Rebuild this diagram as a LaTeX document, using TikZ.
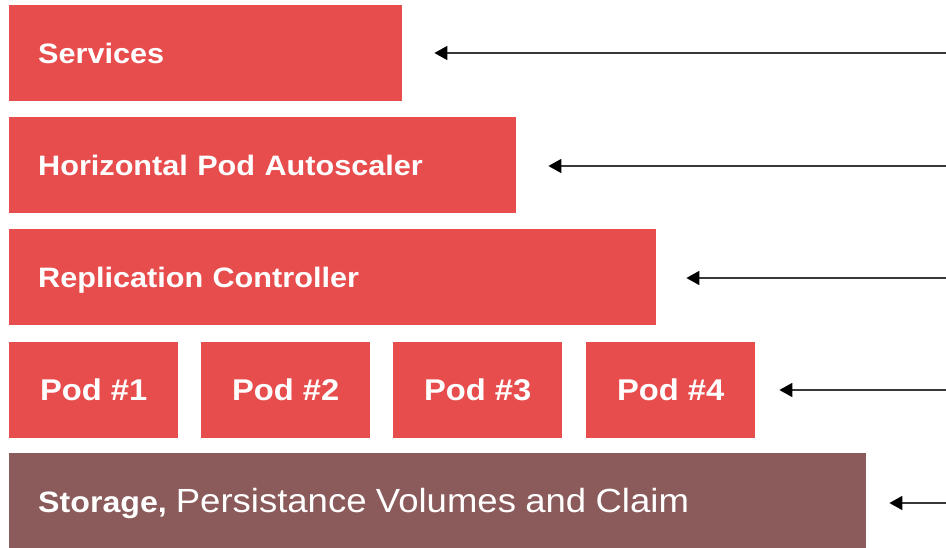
\documentclass[tikz,border=0pt]{standalone}
\usepackage{fontspec}
\setmainfont{Liberation Sans}[FakeStretch=1.09]
\usetikzlibrary{arrows.meta}
\definecolor{layerred}{RGB}{232,77,78}
\definecolor{storagebrown}{RGB}{139,90,90}
\begin{document}
\begin{tikzpicture}[x=1pt,y=-1pt,
  layer/.style={fill=layerred, text=white, inner sep=0pt, anchor=north west,
    minimum height=96pt, text height=20pt, text depth=0pt,
    font=\fontsize{28.1}{32}\selectfont\bfseries},
  widelayer/.style={layer, inner xsep=29pt, align=left},
  podbox/.style={layer, minimum width=169pt, align=center,
    font=\fontsize{30}{34}\selectfont\bfseries},
  feed/.style={draw=black!78, line width=1.8pt,
    -{Triangle[length=13pt,width=14pt,color=black]}}]
  \useasboundingbox (0,0) rectangle (946,548);

  % stacked layers, top to bottom
  \node[widelayer, minimum width=393pt, text width=335pt] (svc) at (9,5) {Services};
  \node[widelayer, minimum width=507pt, text width=449pt] (hpa) at (9,117) {Horizontal Pod Autoscaler};
  \node[widelayer, minimum width=647pt, text width=589pt] (rc) at (9,229) {Replication Controller};
  \node[podbox] (pod1) at (9,342) {Pod \#1};
  \node[podbox] (pod2) at (201,342) {Pod \#2};
  \node[podbox] (pod3) at (393,342) {Pod \#3};
  \node[podbox] (pod4) at (586,342) {Pod \#4};
  \node[widelayer, fill=storagebrown, minimum width=857pt, text width=799pt, text height=22pt] (stor) at (9,453)
    {\fontsize{29.5}{34}\selectfont Storage,\hspace{9pt}\fontsize{33.5}{38}\selectfont\mdseries Persistance Volumes and Claim};

  % arrows entering from the right edge
  \coordinate (svcSrc) at (946,53);
  \coordinate (hpaSrc) at (946,166);
  \coordinate (rcSrc) at (946,278);
  \coordinate (podSrc) at (946,390);
  \coordinate (storSrc) at (946,503);
  \draw[feed] (svcSrc) -- ([xshift=32pt]svc.east |- svcSrc);
  \draw[feed] (hpaSrc) -- ([xshift=32pt]hpa.east |- hpaSrc);
  \draw[feed] (rcSrc) -- ([xshift=30pt]rc.east |- rcSrc);
  \draw[feed] (podSrc) -- ([xshift=24pt]pod4.east |- podSrc);
  \draw[feed] (storSrc) -- ([xshift=23pt]stor.east |- storSrc);
\end{tikzpicture}
\end{document}
